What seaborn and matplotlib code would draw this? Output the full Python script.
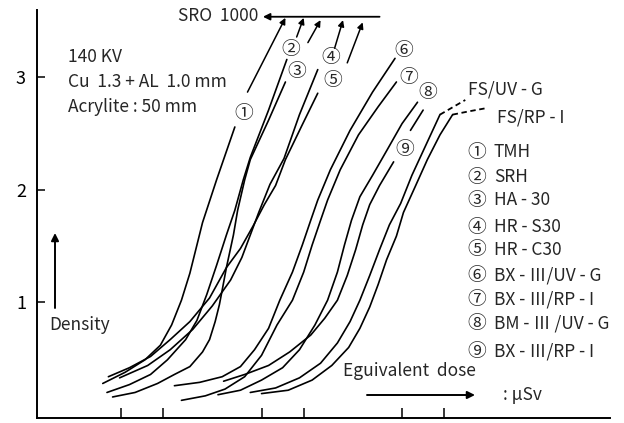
import numpy as np
import pandas as pd
import seaborn as sns
import matplotlib.pyplot as plt

# x = log10 of (relative) equivalent dose, y = film density
tmh_x = [-0.13, 0.03, 0.17, 0.28, 0.36, 0.43, 0.49, 0.58, 0.68, 0.81]
tmh_y = [0.28, 0.38, 0.49, 0.62, 0.80, 1.02, 1.26, 1.71, 2.09, 2.56]
srh_x = [-0.10, 0.06, 0.21, 0.33, 0.46, 0.54, 0.61, 0.68, 0.75, 0.81, 0.87, 0.92, 1.05, 1.18]
srh_y = [0.20, 0.27, 0.36, 0.49, 0.67, 0.84, 1.07, 1.33, 1.60, 1.82, 2.09, 2.29, 2.71, 3.16]
ha30_x = [-0.06, 0.10, 0.26, 0.38, 0.49, 0.58, 0.63, 0.67, 0.70, 0.72, 0.75, 0.80, 0.83, 0.88, 0.92, 1.05, 1.17]
ha30_y = [0.16, 0.20, 0.28, 0.36, 0.43, 0.56, 0.67, 0.83, 0.98, 1.11, 1.31, 1.60, 1.82, 2.09, 2.27, 2.62, 2.96]
hrs30_x = [-0.01, 0.19, 0.35, 0.51, 0.65, 0.78, 0.86, 0.92, 0.98, 1.06, 1.16, 1.27, 1.40]
hrs30_y = [0.33, 0.44, 0.58, 0.76, 0.97, 1.20, 1.40, 1.60, 1.80, 2.05, 2.28, 2.67, 3.07]
hrc30_x = [-0.09, 0.06, 0.21, 0.35, 0.49, 0.63, 0.75, 0.85, 0.94, 1.02, 1.10, 1.17, 1.29, 1.40]
hrc30_y = [0.34, 0.42, 0.52, 0.67, 0.83, 1.04, 1.31, 1.48, 1.68, 1.87, 2.04, 2.27, 2.58, 2.86]
bx_uv_x = [0.38, 0.56, 0.72, 0.85, 0.95, 1.05, 1.13, 1.22, 1.29, 1.35, 1.40, 1.49, 1.63, 1.79, 1.95]
bx_uv_y = [0.26, 0.29, 0.34, 0.43, 0.58, 0.77, 1.02, 1.27, 1.51, 1.73, 1.91, 2.18, 2.53, 2.87, 3.17]
bx_rp_x = [0.43, 0.60, 0.74, 0.88, 1.00, 1.11, 1.22, 1.30, 1.36, 1.42, 1.47, 1.56, 1.69, 1.83, 1.96]
bx_rp_y = [0.13, 0.17, 0.23, 0.34, 0.53, 0.80, 1.02, 1.27, 1.51, 1.73, 1.91, 2.18, 2.49, 2.74, 2.96]
bm_uv_x = [0.69, 0.85, 1.00, 1.15, 1.27, 1.38, 1.47, 1.54, 1.59, 1.64, 1.70, 1.79, 1.90, 2.00, 2.11]
bm_uv_y = [0.18, 0.22, 0.31, 0.42, 0.58, 0.80, 1.02, 1.27, 1.51, 1.73, 1.94, 2.13, 2.37, 2.59, 2.78]
bx9_lo_x = [0.73, 0.88, 1.05, 1.20, 1.35, 1.45, 1.54, 1.61, 1.67, 1.72, 1.77, 1.84, 1.94]
bx9_lo_y = [0.30, 0.36, 0.44, 0.56, 0.71, 0.86, 1.02, 1.24, 1.47, 1.69, 1.87, 2.04, 2.25]
bx9_hi_x = [2.06, 2.15]
bx9_hi_y = [2.53, 2.71]
fs_uv_x = [0.92, 1.10, 1.27, 1.42, 1.54, 1.63, 1.70, 1.77, 1.84, 1.91, 1.99, 2.07, 2.17, 2.27]
fs_uv_y = [0.20, 0.24, 0.33, 0.46, 0.64, 0.83, 1.02, 1.24, 1.47, 1.69, 1.88, 2.13, 2.40, 2.67]
fs_rp_x = [1.00, 1.19, 1.36, 1.50, 1.62, 1.70, 1.77, 1.83, 1.89, 1.96, 2.01, 2.09, 2.18, 2.27, 2.36]
fs_rp_y = [0.19, 0.22, 0.31, 0.44, 0.60, 0.77, 0.96, 1.16, 1.38, 1.59, 1.80, 2.02, 2.27, 2.49, 2.67]
# dashed extensions of the FS curves to their labels
fs_uv_dash_x = [2.27, 2.45]
fs_uv_dash_y = [2.67, 2.80]
fs_rp_dash_x = [2.36, 2.48, 2.61]
fs_rp_dash_y = [2.67, 2.70, 2.73]

# curves 1-5 run off scale (SRO 1000 densitometer limit): arrows to the top
arrow_x0 = [0.90, 1.25, 1.33, 1.52, 1.61]
arrow_y0 = [2.87, 3.36, 3.31, 3.26, 3.13]
arrow_x1 = [1.17, 1.30, 1.42, 1.58, 1.72]
arrow_y1 = [3.53, 3.53, 3.51, 3.51, 3.49]
sro_x = [1.84, 1.01]
sro_y = 3.54

marks = ['①', '②', '③', '④', '⑤', '⑥', '⑦', '⑧', '⑨']
films = ['TMH', 'SRH', 'HA - 30', 'HR - S30', 'HR - C30',
         'BX - Ⅲ/UV - G', 'BX - Ⅲ/RP - I', 'BM - Ⅲ /UV - G', 'BX - Ⅲ/RP - I']
mark_x = [0.87, 1.21, 1.25, 1.49, 1.51, 2.01, 2.05, 2.18, 2.02]
mark_y = [2.68, 3.25, 3.05, 3.18, 2.97, 3.24, 3.00, 2.87, 2.36]
yticks = [1, 2, 3]
xticks = np.log10([1, 2, 10, 20, 100, 200])

segs = {
    'tmh': (tmh_x, tmh_y), 'srh': (srh_x, srh_y), 'ha30': (ha30_x, ha30_y),
    'hrs30': (hrs30_x, hrs30_y), 'hrc30': (hrc30_x, hrc30_y),
    'bx_uv': (bx_uv_x, bx_uv_y), 'bx_rp': (bx_rp_x, bx_rp_y),
    'bm_uv': (bm_uv_x, bm_uv_y), 'bx9_lo': (bx9_lo_x, bx9_lo_y),
    'bx9_hi': (bx9_hi_x, bx9_hi_y), 'fs_uv': (fs_uv_x, fs_uv_y),
    'fs_rp': (fs_rp_x, fs_rp_y),
}
dash_segs = {'fs_uv': (fs_uv_dash_x, fs_uv_dash_y), 'fs_rp': (fs_rp_dash_x, fs_rp_dash_y)}


def to_frame(d):
    rows = []
    for name, (xs, ys) in d.items():
        rows += [(name, a, b) for a, b in zip(xs, ys)]
    return pd.DataFrame(rows, columns=['seg', 'logdose', 'density'])


sns.set_theme(style='white')
plt.rcParams['font.family'] = ['Noto Sans CJK JP', 'DejaVu Sans']

W, H = 624, 423
fig = plt.figure(figsize=(W / 100, H / 100), dpi=100)
ax = fig.add_axes([37 / W, 5 / H, 573 / W, 408 / H])


def fpos(x, y):
    return x / W, 1 - y / H


sns.lineplot(data=to_frame(segs), x='logdose', y='density', units='seg', estimator=None,
             sort=False, color='black', lw=1.2, solid_joinstyle='round', ax=ax, legend=False)
sns.lineplot(data=to_frame(dash_segs), x='logdose', y='density', units='seg', estimator=None,
             sort=False, color='black', lw=1.3, linestyle=(0, (3, 2)), ax=ax, legend=False)

for x0, y0, x1, y1 in zip(arrow_x0, arrow_y0, arrow_x1, arrow_y1):
    ax.annotate('', xy=(x1, y1), xytext=(x0, y0),
                arrowprops=dict(arrowstyle='-|>', color='black', lw=1.1,
                                mutation_scale=9, shrinkA=0, shrinkB=0))
ax.annotate('', xy=(sro_x[1], sro_y), xytext=(sro_x[0], sro_y),
            arrowprops=dict(arrowstyle='-|>', color='black', lw=1.3,
                            mutation_scale=10, shrinkA=0, shrinkB=0))

for m, x, y in zip(marks, mark_x, mark_y):
    ax.text(x, y, m, ha='center', va='center', fontsize=13.5)

ax.set_xlim(-0.598, 3.48)
ax.set_ylim(-0.027, 3.6)
ax.set_xticks(xticks)
ax.set_xticklabels([])
ax.set_yticks(yticks)
ax.set_xlabel('')
ax.set_ylabel('')
ax.tick_params(axis='x', bottom=True, direction='in', length=7, width=1.1, color='black')
ax.tick_params(axis='y', left=True, direction='in', length=6, width=1.1, color='black',
               labelsize=13, pad=8, labelcolor='black')
for s in ['top', 'right']:
    ax.spines[s].set_visible(False)
for s in ['left', 'bottom']:
    ax.spines[s].set_linewidth(1.4)
    ax.spines[s].set_color('black')

# exposure conditions
for txt, y in zip(['140 KV', 'Cu  1.3 + AL  1.0 mm', 'Acrylite : 50 mm'], [57, 82, 107]):
    fig.text(*fpos(68, y), txt, ha='left', va='center', fontsize=12.5)
fig.text(*fpos(258, 16), 'SRO  1000', ha='right', va='center', fontsize=12.5)

# film legend
for i, (m, f) in enumerate(zip(marks, films)):
    y = [152, 177, 200, 227, 250, 275, 299, 323, 351][i]
    fig.text(*fpos(477, y), m, ha='center', va='center', fontsize=13.5)
    fig.text(*fpos(494, y), f, ha='left', va='center', fontsize=12.5)
fig.text(*fpos(468, 90), 'FS/UV - G', ha='left', va='center', fontsize=12.5)
fig.text(*fpos(497, 118), 'FS/RP - I', ha='left', va='center', fontsize=12.5)

# axis captions with arrows
fig.text(*fpos(49, 325), 'Density', ha='left', va='center', fontsize=12.5)
ax.annotate('', xy=fpos(55, 233), xytext=fpos(55, 308), xycoords='figure fraction',
            arrowprops=dict(arrowstyle='-|>', color='black', lw=1.4,
                            mutation_scale=11, shrinkA=0, shrinkB=0))
fig.text(*fpos(343, 371), 'Eguivalent  dose', ha='left', va='center', fontsize=12.5)
ax.annotate('', xy=fpos(475, 395), xytext=fpos(367, 395), xycoords='figure fraction',
            arrowprops=dict(arrowstyle='-|>', color='black', lw=1.4,
                            mutation_scale=11, shrinkA=0, shrinkB=0))
fig.text(*fpos(503, 395), ': μSv', ha='left', va='center', fontsize=12.5)

fig.savefig('out.png', dpi=100)
